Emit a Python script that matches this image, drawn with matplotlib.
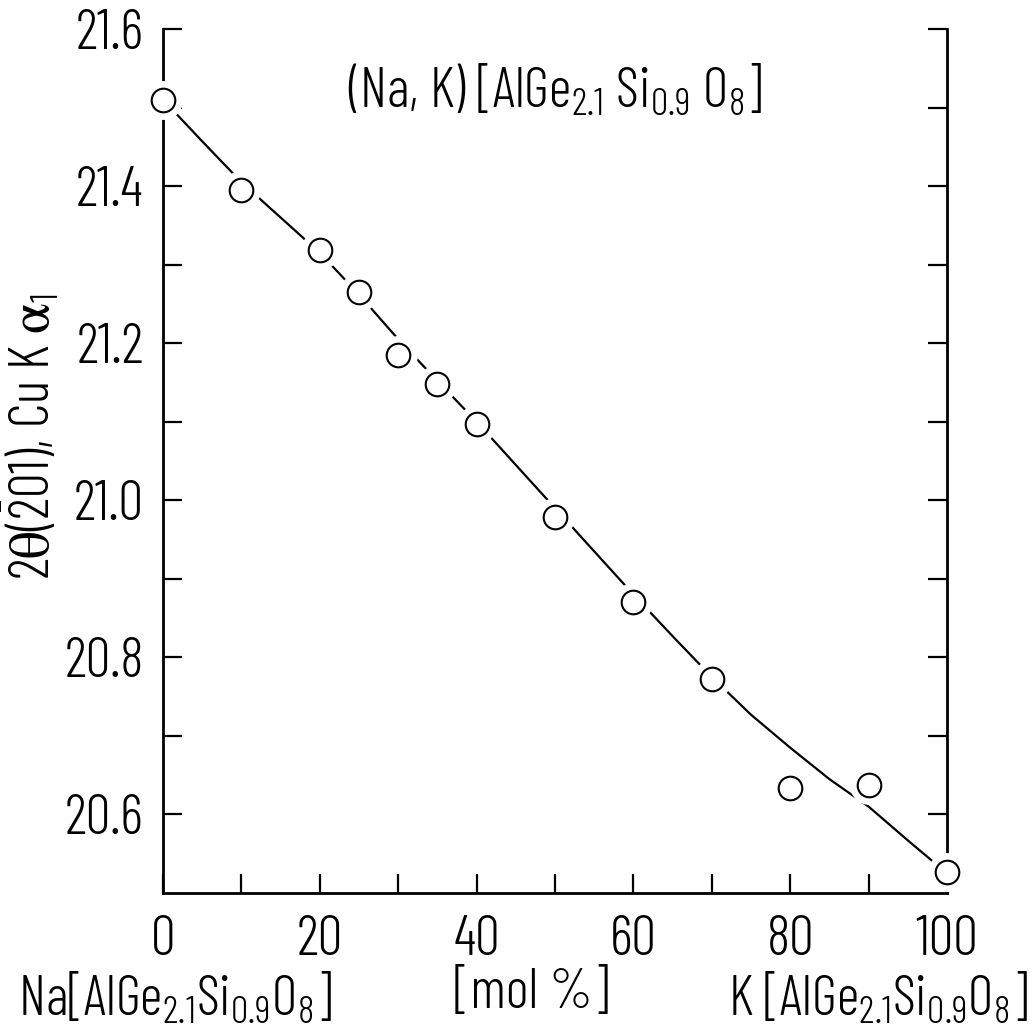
import numpy as np
import matplotlib
matplotlib.use("Agg")
import matplotlib.pyplot as plt

# measured points: mol % K vs 2theta(-201)
mol_k = [0, 10, 20, 25, 30, 35, 40, 50, 60, 70, 80, 90, 100]
two_theta = [21.51, 21.395, 21.319, 21.265, 21.185, 21.148, 21.097,
             20.979, 20.870, 20.772, 20.634, 20.638, 20.527]

# drawn curve
curve_x = [0, 5, 10, 15, 20, 25, 30, 35, 40, 45, 50, 55, 60, 65, 70, 75, 80, 85, 90, 95, 100]
curve_y = [21.51, 21.457, 21.405, 21.36, 21.315, 21.262, 21.205, 21.152, 21.10, 21.045,
           20.99, 20.935, 20.88, 20.827, 20.775, 20.727, 20.685, 20.645, 20.61, 20.567, 20.525]

xticks_major = [0, 20, 40, 60, 80, 100]
yticks_major = [20.6, 20.8, 21.0, 21.2, 21.4, 21.6]

plt.rcParams['font.family'] = 'Barlow Condensed'
plt.rcParams['font.weight'] = 300
plt.rcParams['mathtext.fontset'] = 'custom'
plt.rcParams['mathtext.rm'] = 'Barlow Condensed:weight=300'
plt.rcParams['mathtext.it'] = 'Barlow Condensed:weight=300'
plt.rcParams['mathtext.sf'] = 'Barlow Condensed:weight=300'
plt.rcParams['mathtext.fallback'] = 'stix'

fs = 40

fig = plt.figure(figsize=(10.33, 10.30), dpi=100)
ax = fig.add_axes([163/1033, 1-893/1030, (947-163)/1033, (893-29)/1030])

ax.plot(curve_x, curve_y, color='black', lw=1.6, zorder=2)
# white halo to break line and spines around circles
ax.plot(mol_k, two_theta, 'o', ms=28, mfc='white', mec='none', zorder=3, clip_on=False)
ax.plot(mol_k, two_theta, 'o', ms=17, mfc='white', mec='black', mew=1.5, zorder=4, clip_on=False)

ax.set_xlim(0, 100)
ax.set_ylim(20.5, 21.6)

ax.spines['top'].set_visible(False)
for s in ['left', 'right', 'bottom']:
    ax.spines[s].set_linewidth(2.0)
    ax.spines[s].set_zorder(1)

ax.set_xticks(xticks_major)
ax.set_xticks(np.arange(0, 101, 10), minor=True)
ax.set_yticks(yticks_major)
ax.set_yticks(np.arange(20.6, 21.61, 0.1), minor=True)
ax.set_xticklabels([str(v) for v in xticks_major])
ax.set_yticklabels([f"{v:.1f}" for v in yticks_major])

ax.tick_params(which='both', direction='in', length=14, width=1.6, top=False,
               right=True, labelsize=fs)
ax.tick_params(axis='y', pad=14)
ax.tick_params(axis='x', pad=16)

fig.text(30/1033, 1-437/1030, r"2$\mathrm{\theta}$($\bar{2}$01), Cu K $\alpha_1$",
         rotation=90, ha='center', va='center', fontsize=fs)
fig.text(555/1033, 1-90/1030, r"(Na, K) [AlGe$_{2.1}$ Si$_{0.9}$ O$_8$]",
         fontsize=fs, ha='center', va='center')

fig.text(18/1033, 1-998/1030, r"Na[AlGe$_{2.1}$Si$_{0.9}$O$_8$]", fontsize=fs,
         ha='left', va='center')
fig.text(532/1033, 1-993/1030, "[mol %]", fontsize=fs, ha='center', va='center')
fig.text(1028/1033, 1-998/1030, r"K [AlGe$_{2.1}$Si$_{0.9}$O$_8$]", fontsize=fs,
         ha='right', va='center')

fig.savefig("out.png", dpi=100)
